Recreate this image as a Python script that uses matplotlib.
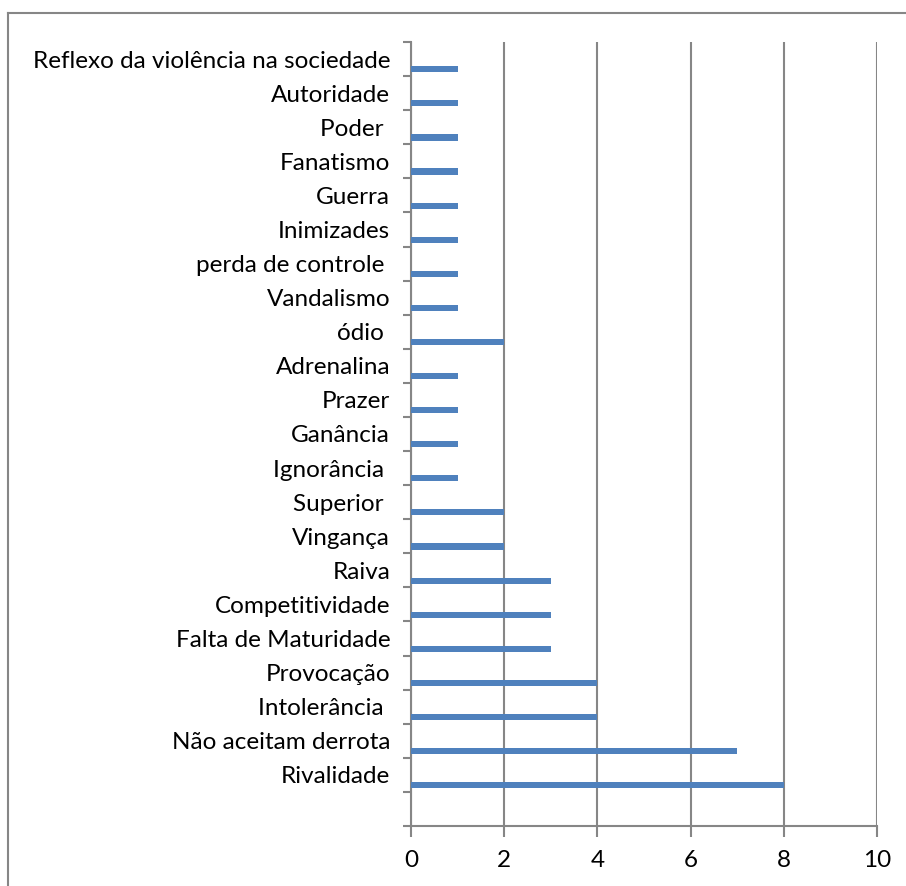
import matplotlib
matplotlib.use("Agg")
import matplotlib.pyplot as plt
from matplotlib.lines import Line2D
import numpy as np

# categories from bottom to top (bottom slot is empty in the original)
categories = ["Rivalidade", "Não aceitam derrota", "Intolerância ", "Provocação",
              "Falta de Maturidade", "Competitividade", "Raiva", "Vingança",
              "Superior ", "Ignorância ", "Ganância", "Prazer", "Adrenalina",
              "ódio ", "Vandalismo", "perda de controle ", "Inimizades", "Guerra",
              "Fanatismo", "Poder ", "Autoridade", "Reflexo da violência na sociedade"]
values = [8, 7, 4, 4, 3, 3, 3, 2, 2, 1, 1, 1, 1, 2, 1, 1, 1, 1, 1, 1, 1, 1]
x_ticks = [0, 2, 4, 6, 8, 10]

plt.rcParams['font.family'] = ['Lato', 'DejaVu Sans']
grey = "#868686"

fig = plt.figure(figsize=(9.06, 8.86), dpi=100)
ax = fig.add_axes([411/906, 1-826/886, (877-411)/906, (826-42)/886])

n_slots = len(categories) + 1
slot = np.arange(1, n_slots)
ax.barh(slot + 0.2, values, height=0.18, color="#4F81BD", zorder=3)

ax.set_xlim(0, 10)
ax.set_ylim(0, n_slots)
ax.set_xticks(x_ticks)
ax.set_xticklabels([str(t) for t in x_ticks], fontsize=17.5)
ax.grid(axis="x", color=grey, linewidth=1.5, zorder=1)

ax.set_yticks(slot + 0.5)
ax.set_yticklabels(categories, fontsize=17.5)
ax.set_yticks(np.arange(0, n_slots + 1), minor=True)
ax.tick_params(axis="y", which="major", length=0, pad=15)
ax.tick_params(axis="y", which="minor", length=6, width=1.5, color=grey, direction="out")
ax.tick_params(axis="x", length=8, width=1.5, color=grey, pad=9)

for s in ["top", "right"]:
    ax.spines[s].set_visible(False)
for s in ["left", "bottom"]:
    ax.spines[s].set_color(grey)
    ax.spines[s].set_linewidth(1.5)

# outer chart border
fig.add_artist(Line2D([8/906, 8/906], [0, 1-13/886], transform=fig.transFigure, color=grey, linewidth=1.5))
fig.add_artist(Line2D([8/906, 1], [1-13/886, 1-13/886], transform=fig.transFigure, color=grey, linewidth=1.5))

fig.savefig("out.png", dpi=100)
